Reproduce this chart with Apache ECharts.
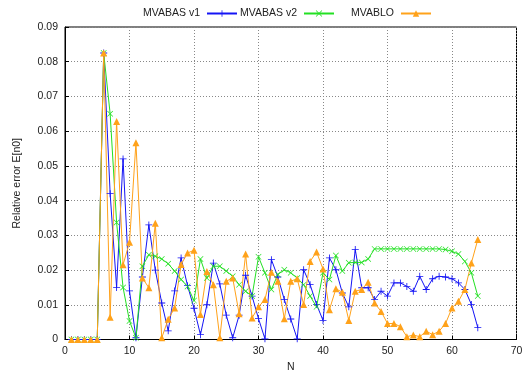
<!DOCTYPE html>
<html>
<head>
<meta charset="utf-8">
<script src="https://cdn.jsdelivr.net/npm/echarts@6/dist/echarts.min.js"></script>
<style>
html,body{margin:0;padding:0;background:#fff;overflow:hidden;}
#chart{width:524px;height:371px;}
</style>
</head>
<body>
<div id="chart"></div>
<script>
const nValues = Array.from({length: 64}, (_, i) => i + 1);
const seriesNames = ['MVABAS v1', 'MVABAS v2', 'MVABLO'];
const mvabasV1 = [0,0,0,0,0,0.0825,0.042,0.015,0.052,0.014,0.0005,0.018,0.033,0.02,0.0105,0.0025,0.014,0.0235,0.0155,0.009,0.0014,0.010,0.022,0.016,0.007,0.0005,0.007,0.0185,0.0125,0.006,0.0002,0.023,0.018,0.0115,0.0059,0.0002,0.0201,0.0158,0.0101,0.0055,0.0235,0.0201,0.0134,0.0094,0.0259,0.0149,0.0149,0.0115,0.0139,0.0125,0.0163,0.0163,0.0153,0.0139,0.0182,0.0144,0.0175,0.0182,0.018,0.0175,0.0163,0.0144,0.0101,0.0034];
const mvabasV2 = [0,0,0,0,0,0.0825,0.065,0.0337,0.015,0.0053,0.0005,0.0211,0.0244,0.024,0.0232,0.0218,0.0197,0.0173,0.0153,0.0112,0.0232,0.0177,0.0211,0.0211,0.0197,0.0182,0.0158,0.0139,0.0125,0.0238,0.0192,0.0144,0.0187,0.0201,0.0192,0.0177,0.0158,0.0125,0.0094,0.0192,0.0173,0.0242,0.0197,0.0221,0.0222,0.0222,0.0232,0.0261,0.0261,0.0261,0.0261,0.0261,0.0261,0.0261,0.0261,0.0261,0.0261,0.0261,0.0259,0.0254,0.0246,0.0225,0.0192,0.0125];
const mvablo = [0,0,0,0,0,0.0825,0.0064,0.0628,0.0215,0.028,0.0567,0.0177,0.0149,0.0335,0.0005,0.0058,0.0091,0.0216,0.0249,0.0257,0.0072,0.0196,0.0158,0.0005,0.0168,0.0177,0.0074,0.0246,0.0062,0.0094,0.0115,0.0194,0.0168,0.006,0.0168,0.0175,0.0101,0.0225,0.0252,0.0203,0.0086,0.0146,0.0136,0.0055,0.0139,0.0144,0.0165,0.0105,0.0081,0.0046,0.0046,0.0037,0.0008,0.0013,0.0008,0.0024,0.0014,0.0024,0.0046,0.0091,0.011,0.0144,0.022,0.0288];
const xTicks = [0,10,20,30,40,50,60,70];
const yTicks = ['0','0.01','0.02','0.03','0.04','0.05','0.06','0.07','0.08','0.09'];

const colors = ['#1414f5', '#22e022', '#ffa21a'];
const plusPath = 'path://M4.4,0h1.2v4.4h4.4v1.2h-4.4v4.4h-1.2v-4.4h-4.4v-1.2h4.4z';
const crossPath = 'path://M0.8,0l4.2,4.2l4.2,-4.2l0.8,0.8l-4.2,4.2l4.2,4.2l-0.8,0.8l-4.2,-4.2l-4.2,4.2l-0.8,-0.8l4.2,-4.2l-4.2,-4.2z';
const symbols = [plusPath, crossPath, 'triangle'];
const symbolSizes = [7, 6, 7];
const dataSets = [mvabasV1, mvabasV2, mvablo];

const chart = echarts.init(document.getElementById('chart'), null, {renderer: 'canvas', width: 524, height: 371});
const font = 'Liberation Sans, Arial, sans-serif';
const legendRights = [286, 189, 92];

chart.setOption({
  animation: false,
  backgroundColor: '#fff',
  textStyle: {fontFamily: font},
  legend: seriesNames.map((name, i) => ({
    data: [name],
    right: legendRights[i],
    top: 8,
    padding: 0,
    align: 'right',
    itemWidth: 30,
    itemHeight: 8,
    itemGap: 0,
    textStyle: {fontSize: 10.5, color: '#222', fontFamily: font, padding: [0, 2, 0, 0]},
    selectedMode: false
  })),
  grid: {left: 65, top: 27, width: 451.5, height: 312.5, show: true, borderColor: '#000', borderWidth: 1,
    containLabel: false, outerBoundsMode: 'none'},
  xAxis: {
    type: 'value', min: 0, max: 70, interval: 10,
    name: 'N', nameLocation: 'middle', nameGap: 20,
    nameTextStyle: {fontSize: 10.5, color: '#222', fontFamily: font},
    axisLine: {show: true, lineStyle: {color: '#000'}},
    axisTick: {inside: true, length: 4, lineStyle: {color: '#000'}},
    axisLabel: {fontSize: 10.5, color: '#222', margin: 6, fontFamily: font,
      formatter: v => String(xTicks[xTicks.indexOf(v)])},
    splitLine: {show: true, lineStyle: {color: '#888', type: [1, 2], width: 1}}
  },
  yAxis: {
    type: 'value', min: 0, max: 0.09, interval: 0.01,
    name: 'Relative error E[n0]', nameLocation: 'middle', nameGap: 42,
    nameTextStyle: {fontSize: 10.5, color: '#222', fontFamily: font},
    axisLine: {show: true, lineStyle: {color: '#000'}},
    axisTick: {inside: true, length: 4, lineStyle: {color: '#000'}},
    axisLabel: {fontSize: 10.5, color: '#222', margin: 7, fontFamily: font,
      formatter: v => yTicks[Math.round(v * 100)]},
    splitLine: {show: true, lineStyle: {color: '#888', type: [1, 2], width: 1}}
  },
  series: seriesNames.map((name, i) => ({
    name: name,
    type: 'line',
    data: nValues.map((n, k) => [n, dataSets[i][k]]),
    color: colors[i],
    lineStyle: {width: 1, color: colors[i]},
    symbol: symbols[i],
    symbolSize: symbolSizes[i],
    showAllSymbol: true,
    itemStyle: {color: colors[i]},
    clip: false
  }))
});
</script>
</body>
</html>
